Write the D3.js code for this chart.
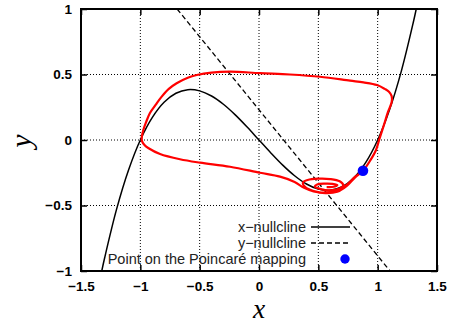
<!DOCTYPE html>
<html>
<head>
<meta charset="utf-8">
<script src="https://cdn.jsdelivr.net/npm/d3@7"></script>
<style>
  body { margin: 0; background: #fff; }
  svg { display: block; }
  .tick text { font-family: "Liberation Sans", Arial, sans-serif; font-weight: bold; font-size: 13.5px; fill: #000; }
  .legend text { font-family: "Liberation Sans", Arial, sans-serif; font-size: 14.5px; fill: #222; }
</style>
</head>
<body>
<div id="chart"></div>
<script>

var xTicks = [-1.5, -1, -0.5, 0, 0.5, 1, 1.5];
var xTickLabels = ['\u22121.5', '\u22121', '\u22120.5', '0', '0.5', '1', '1.5'];
var yTicks = [-1, -0.5, 0, 0.5, 1];
var yTickLabels = ['\u22121', '\u22120.5', '0', '0.5', '1'];

// x-nullcline
var xNullcline = [
  [-1.325, -1.0], [-1.3, -0.897], [-1.2, -0.528], [-1.1, -0.231], [-1.0, 0.0],
  [-0.9, 0.171], [-0.8, 0.288], [-0.7, 0.357], [-0.6, 0.384], [-0.5, 0.375],
  [-0.4, 0.336], [-0.3, 0.273], [-0.2, 0.192], [-0.1, 0.099], [0.0, 0.0],
  [0.1, -0.099], [0.2, -0.192], [0.3, -0.273], [0.4, -0.336], [0.5, -0.375],
  [0.6, -0.384], [0.7, -0.357], [0.8, -0.288], [0.9, -0.171], [1.0, 0.0],
  [1.1, 0.231], [1.2, 0.528], [1.3, 0.897], [1.325, 1.0]
];

// y-nullcline (straight line)
var yNullcline = [[-0.69, 1.0], [1.104, -1.0]];

// trajectory: spiral out from the fixed point, then the limit cycle
var trajectory = [
  [0.57, -0.36], [0.64, -0.355], [0.66, -0.345], [0.62, -0.335], [0.55, -0.333],
  [0.49, -0.34], [0.47, -0.355], [0.52, -0.375], [0.60, -0.385], [0.68, -0.37],
  [0.71, -0.345], [0.68, -0.315], [0.60, -0.298], [0.50, -0.295], [0.41, -0.305],
  [0.37, -0.325], [0.39, -0.36], [0.46, -0.39], [0.56, -0.405], [0.66, -0.395],
  [0.74, -0.35], [0.81, -0.285], [0.876, -0.235],
  [0.935, -0.16], [0.986, -0.076], [1.012, 0.0], [1.053, 0.115], [1.087, 0.214],
  [1.118, 0.29], [1.118, 0.335], [1.095, 0.368], [1.06, 0.39], [0.994, 0.42],
  [0.88, 0.44], [0.767, 0.453], [0.514, 0.483], [0.26, 0.50], [0.008, 0.51],
  [-0.24, 0.522], [-0.40, 0.515], [-0.525, 0.496], [-0.60, 0.475], [-0.694, 0.433],
  [-0.76, 0.39], [-0.82, 0.331], [-0.87, 0.27], [-0.919, 0.206], [-0.95, 0.14],
  [-0.975, 0.076], [-0.988, 0.02], [-0.985, -0.01], [-0.965, -0.038], [-0.93, -0.063],
  [-0.834, -0.107], [-0.666, -0.147], [-0.497, -0.173], [-0.244, -0.204], [0.008, -0.25],
  [0.177, -0.28], [0.30, -0.32], [0.38, -0.365], [0.46, -0.392], [0.556, -0.402],
  [0.657, -0.382], [0.742, -0.34], [0.809, -0.282], [0.876, -0.235], [0.935, -0.16],
  [0.986, -0.076], [1.012, 0.0]
];

var mappingPoint = [[0.876, -0.235]];

var legendItems = ['x\u2212nullcline', 'y\u2212nullcline', 'Point on the Poincar\u00e9 mapping'];

var W = 457, H = 327;
var padLeft = 81, padTop = 9, plotW = 356, plotH = 262;

var x = d3.scaleLinear().domain([-1.5, 1.5]).range([padLeft, padLeft + plotW]);
var y = d3.scaleLinear().domain([-1, 1]).range([padTop + plotH, padTop]);

var svg = d3.select('#chart')
  .append('svg')
  .attr('width', W)
  .attr('height', H);

svg.append('defs').append('clipPath')
  .attr('id', 'clip')
  .append('rect')
  .attr('x', padLeft).attr('y', padTop)
  .attr('width', plotW).attr('height', plotH);

// dotted grid
svg.append('g').selectAll('line')
  .data(xTicks.slice(1, -1))
  .enter().append('line')
  .attr('x1', function(d){ return x(d); })
  .attr('x2', function(d){ return x(d); })
  .attr('y1', padTop).attr('y2', padTop + plotH)
  .attr('stroke', '#000').attr('stroke-width', 1)
  .attr('stroke-dasharray', '1,2');

svg.append('g').selectAll('line')
  .data(yTicks.slice(1, -1))
  .enter().append('line')
  .attr('y1', function(d){ return y(d); })
  .attr('y2', function(d){ return y(d); })
  .attr('x1', padLeft).attr('x2', padLeft + plotW)
  .attr('stroke', '#000').attr('stroke-width', 1)
  .attr('stroke-dasharray', '1,2');

// axes with inward ticks on all four sides
function styleAxis(g){
  g.select('.domain').remove();
  g.selectAll('.tick line').attr('stroke', '#000').attr('stroke-width', 1.5);
}

svg.append('g')
  .attr('transform', 'translate(0,' + (padTop + plotH) + ')')
  .call(d3.axisBottom(x).tickValues(xTicks).tickSize(-6).tickPadding(10)
    .tickFormat(function(d, i){ return xTickLabels[i]; }))
  .call(styleAxis);

svg.append('g')
  .attr('transform', 'translate(0,' + padTop + ')')
  .call(d3.axisTop(x).tickValues(xTicks).tickSize(-6).tickFormat(''))
  .call(styleAxis);

svg.append('g')
  .attr('transform', 'translate(' + padLeft + ',0)')
  .call(d3.axisLeft(y).tickValues(yTicks).tickSize(-6).tickPadding(9)
    .tickFormat(function(d, i){ return yTickLabels[i]; }))
  .call(styleAxis);

svg.append('g')
  .attr('transform', 'translate(' + (padLeft + plotW) + ',0)')
  .call(d3.axisRight(y).tickValues(yTicks).tickSize(-6).tickFormat(''))
  .call(styleAxis);

var line = d3.line()
  .x(function(d){ return x(d[0]); })
  .y(function(d){ return y(d[1]); });

var plot = svg.append('g').attr('clip-path', 'url(#clip)');

plot.append('path')
  .datum(xNullcline)
  .attr('d', line.curve(d3.curveCatmullRom))
  .attr('fill', 'none')
  .attr('stroke', '#000')
  .attr('stroke-width', 1.5);

plot.append('path')
  .datum(yNullcline)
  .attr('d', line.curve(d3.curveLinear))
  .attr('fill', 'none')
  .attr('stroke', '#000')
  .attr('stroke-width', 1.3)
  .attr('stroke-dasharray', '5,3');

plot.append('path')
  .datum(trajectory)
  .attr('d', line.curve(d3.curveCatmullRom))
  .attr('fill', 'none')
  .attr('stroke', '#f00')
  .attr('stroke-width', 2.2)
  .attr('stroke-linejoin', 'round');

plot.selectAll('circle')
  .data(mappingPoint)
  .enter().append('circle')
  .attr('cx', function(d){ return x(d[0]); })
  .attr('cy', function(d){ return y(d[1]); })
  .attr('r', 5.3)
  .attr('fill', '#00f');

// legend
var legend = svg.append('g').attr('class', 'legend');
var rows = legend.selectAll('g')
  .data(legendItems)
  .enter().append('g')
  .attr('transform', function(d, i){ return 'translate(0,' + (227 + i * 16) + ')'; });

rows.append('text')
  .attr('x', 306)
  .attr('y', 5)
  .attr('text-anchor', 'end')
  .text(function(d){ return d; });

rows.filter(function(d, i){ return i < 2; })
  .append('line')
  .attr('x1', 311).attr('x2', 350)
  .attr('y1', 0).attr('y2', 0)
  .attr('stroke', '#000')
  .attr('stroke-width', function(d, i){ return i === 0 ? 1.5 : 1.3; })
  .attr('stroke-dasharray', function(d, i){ return i === 0 ? null : '5,3'; });

rows.filter(function(d, i){ return i === 2; })
  .append('circle')
  .attr('cx', 345).attr('cy', 0).attr('r', 4.7)
  .attr('fill', '#00f');

// frame
svg.append('rect')
  .attr('x', padLeft).attr('y', padTop)
  .attr('width', plotW).attr('height', plotH)
  .attr('fill', 'none')
  .attr('stroke', '#000')
  .attr('stroke-width', 2);

// axis titles
svg.append('text')
  .attr('x', 259).attr('y', 318)
  .attr('text-anchor', 'middle')
  .style('font-family', '"Liberation Serif", "Times New Roman", serif')
  .style('font-style', 'italic')
  .style('font-size', '27.5px')
  .text('x');

svg.append('text')
  .attr('transform', 'translate(31,141) rotate(-90)')
  .attr('text-anchor', 'middle')
  .style('font-family', '"Liberation Serif", "Times New Roman", serif')
  .style('font-style', 'italic')
  .style('font-size', '30px')
  .text('y');

</script>
</body>
</html>
